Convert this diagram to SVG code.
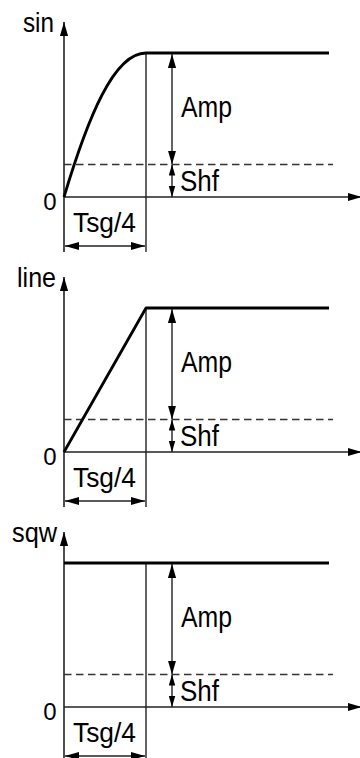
<svg xmlns="http://www.w3.org/2000/svg" width="360" height="758" viewBox="0 0 360 758">
<style>
text{font-family:"Liberation Sans",Arial,sans-serif;fill:#000}
.lbl{font-size:27px}
.big{font-size:29px}
.t4{font-size:27px}
.zero{font-size:24px;text-anchor:middle}
.axis{stroke:#222;stroke-width:1.6;fill:none}
.thin{stroke:#222;stroke-width:1.4;fill:none}
.sig{stroke:#000;stroke-width:2.8;fill:none;stroke-linejoin:round}
.dash{stroke:#333;stroke-width:1.4;stroke-dasharray:7.5 4.5;fill:none}
</style>
<defs>
<marker id="ah" markerUnits="userSpaceOnUse" markerWidth="14" markerHeight="10" viewBox="0 0 12 7" refX="12" refY="3.5" orient="auto-start-reverse">
<path d="M0,0 L12,3.5 L0,7 Z" fill="#000"/>
</marker>
<marker id="as" markerUnits="userSpaceOnUse" markerWidth="11" markerHeight="7" viewBox="0 0 11 6.5" refX="11" refY="3.25" orient="auto-start-reverse">
<path d="M0,0 L11,3.25 L0,6.5 Z" fill="#000"/>
</marker>
</defs>

<g id="panel-sin">
<text class="lbl" x="23" y="32" textLength="31" lengthAdjust="spacingAndGlyphs">sin</text>
<text class="zero" x="50" y="210">0</text>
<line class="axis" x1="64" y1="252" x2="64" y2="22" marker-end="url(#ah)"/>
<line class="axis" x1="64" y1="197" x2="362" y2="197" marker-end="url(#ah)"/>
<line class="thin" x1="146" y1="53" x2="146" y2="252"/>
<line class="dash" x1="64" y1="164.5" x2="333" y2="164.5"/>
<path class="sig" d="M64,197 C88,117 114,53 146,53 L329,53"/>
<text class="big" x="181" y="117" textLength="51" lengthAdjust="spacingAndGlyphs">Amp</text>
<text class="big" x="180" y="191" textLength="39" lengthAdjust="spacingAndGlyphs">Shf</text>
<text class="t4" x="73" y="232" textLength="63" lengthAdjust="spacingAndGlyphs">Tsg/4</text>
</g>

<g id="panel-line">
<text class="lbl" x="17" y="287" textLength="39" lengthAdjust="spacingAndGlyphs">line</text>
<text class="zero" x="50" y="465">0</text>
<line class="axis" x1="64" y1="507" x2="64" y2="277" marker-end="url(#ah)"/>
<line class="axis" x1="64" y1="452" x2="362" y2="452" marker-end="url(#ah)"/>
<line class="thin" x1="146" y1="308" x2="146" y2="507"/>
<line class="dash" x1="64" y1="419.5" x2="333" y2="419.5"/>
<path class="sig" d="M64,452 L146,308 L329,308"/>
<text class="big" x="181" y="372" textLength="51" lengthAdjust="spacingAndGlyphs">Amp</text>
<text class="big" x="180" y="446" textLength="39" lengthAdjust="spacingAndGlyphs">Shf</text>
<text class="t4" x="73" y="487" textLength="63" lengthAdjust="spacingAndGlyphs">Tsg/4</text>
</g>

<g id="panel-sqw">
<text class="lbl" x="12" y="542" textLength="45" lengthAdjust="spacingAndGlyphs">sqw</text>
<text class="zero" x="50" y="720">0</text>
<line class="axis" x1="64" y1="758" x2="64" y2="532" marker-end="url(#ah)"/>
<line class="axis" x1="64" y1="707" x2="362" y2="707" marker-end="url(#ah)"/>
<line class="thin" x1="146" y1="563" x2="146" y2="758"/>
<line class="dash" x1="64" y1="674.5" x2="333" y2="674.5"/>
<path class="sig" d="M64,563 L329,563"/>
<text class="big" x="181" y="627" textLength="51" lengthAdjust="spacingAndGlyphs">Amp</text>
<text class="big" x="180" y="701" textLength="39" lengthAdjust="spacingAndGlyphs">Shf</text>
<text class="t4" x="73" y="742" textLength="63" lengthAdjust="spacingAndGlyphs">Tsg/4</text>
</g>

<g id="connectors">
<line class="thin" x1="172" y1="54" x2="172" y2="164.5" marker-start="url(#ah)" marker-end="url(#ah)"/>
<line class="thin" x1="172" y1="164.5" x2="172" y2="197" marker-start="url(#as)" marker-end="url(#as)"/>
<line class="thin" x1="65" y1="246" x2="145" y2="246" marker-start="url(#ah)" marker-end="url(#ah)"/>

<line class="thin" x1="172" y1="309" x2="172" y2="419.5" marker-start="url(#ah)" marker-end="url(#ah)"/>
<line class="thin" x1="172" y1="419.5" x2="172" y2="452" marker-start="url(#as)" marker-end="url(#as)"/>
<line class="thin" x1="65" y1="501" x2="145" y2="501" marker-start="url(#ah)" marker-end="url(#ah)"/>

<line class="thin" x1="172" y1="564" x2="172" y2="674.5" marker-start="url(#ah)" marker-end="url(#ah)"/>
<line class="thin" x1="172" y1="674.5" x2="172" y2="707" marker-start="url(#as)" marker-end="url(#as)"/>
<line class="thin" x1="65" y1="756" x2="145" y2="756" marker-start="url(#ah)" marker-end="url(#ah)"/>
</g>
</svg>
